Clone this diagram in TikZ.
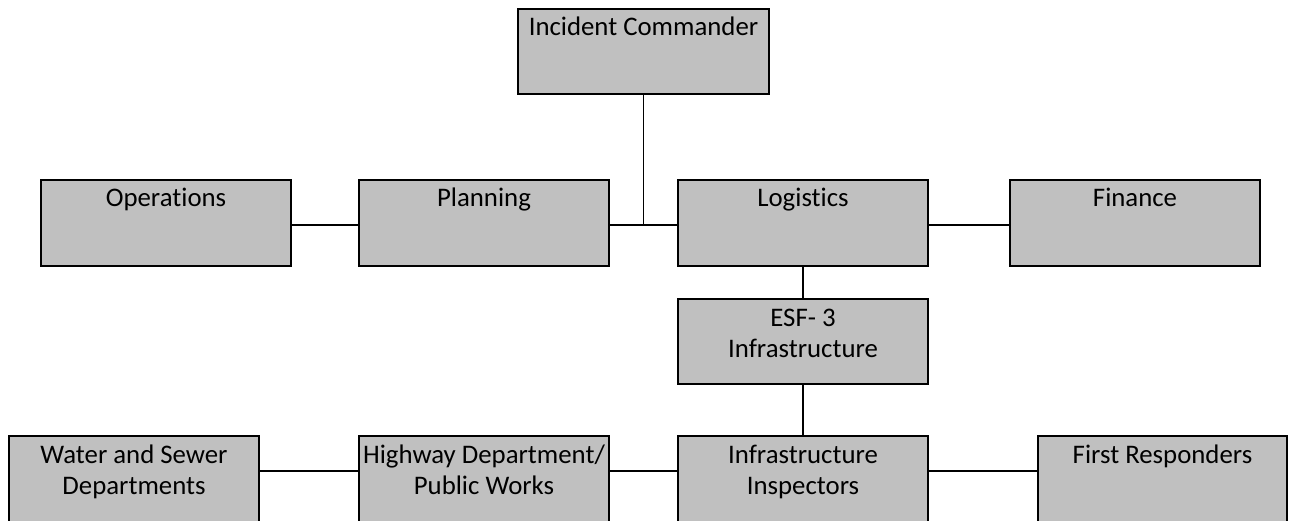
\documentclass[tikz,border=0pt]{standalone}
\usepackage{fontspec}
\setmainfont{Carlito}[Ligatures=NoCommon]
\definecolor{boxgray}{RGB}{192,192,192}
% two centred lines whose baseline is the first line
\newcommand{\stacktext}[2]{\vtop{\baselineskip=31pt\halign{\hfil##\hfil\cr #1\cr #2\cr}}}
\begin{document}
\begin{tikzpicture}[x=1pt,y=-1pt,
  box/.style={draw=black, line width=1.3pt, fill=boxgray, inner sep=0pt, outer sep=0pt,
              minimum width=250pt, minimum height=86pt},
  lbl/.style={inner sep=0pt, anchor=base, font=\fontsize{26.8}{31}\selectfont},
  link/.style={draw=black, line width=1.2pt}]
\useasboundingbox (0,0) rectangle (1289,521);

% boxes
\node[box, minimum width=251pt, minimum height=85pt] (ic) at (643.5,51.5) {};
\node[box] (ops)  at (166,223) {};
\node[box] (plan) at (484,223) {};
\node[box] (log)  at (803,223) {};
\node[box] (fin)  at (1135,223) {};
\node[box, minimum height=85pt] (esf) at (803,341.5) {};
\node[box] (ws)   at (134,479) {};
\node[box] (hw)   at (484,479) {};
\node[box] (ii)   at (803,479) {};
\node[box, minimum width=249pt] (fr) at (1162.5,479) {};

% labels, first baseline 27pt below the top edge
\node[lbl] (icT)   at ([yshift=-27pt]ic.north)   {Incident Commander};
\node[lbl] (opsT)  at ([yshift=-27pt]ops.north)  {Operations};
\node[lbl] (planT) at ([yshift=-27pt]plan.north) {Planning};
\node[lbl] (logT)  at ([yshift=-27pt]log.north)  {Logistics};
\node[lbl] (finT)  at ([yshift=-27pt]fin.north)  {Finance};
\node[lbl] (esfT)  at ([yshift=-27pt]esf.north)  {\stacktext{ESF- 3}{Infrastructure}};
\node[lbl] (wsT)   at ([yshift=-27pt]ws.north)   {\stacktext{Water and Sewer}{Departments}};
\node[lbl] (hwT)   at ([yshift=-27pt]hw.north)   {\stacktext{Highway Department/}{Public Works}};
\node[lbl] (iiT)   at ([yshift=-27pt]ii.north)   {\stacktext{Infrastructure}{Inspectors}};
\node[lbl] (frT)   at ([yshift=-27pt]fr.north)   {First Responders};

% connectors, top row
\coordinate (pe) at ([yshift=-45pt]plan.north east);
\draw[link] ([yshift=-45pt]ops.north east)  -- ([yshift=-45pt]plan.north west);
\draw[link] (pe) -- ([yshift=-45pt]log.north west);
\draw[link] ([yshift=-45pt]log.north east)  -- ([yshift=-45pt]fin.north west);
\draw[link] (ic.south) -- (ic.south |- pe);

% connectors, vertical chain
\draw[link] (log.south) -- (esf.north);
\draw[link] (esf.south) -- (ii.north);

% connectors, bottom row
\draw[link] ([yshift=-35pt]ws.north east) -- ([yshift=-35pt]hw.north west);
\draw[link] ([yshift=-35pt]hw.north east) -- ([yshift=-35pt]ii.north west);
\draw[link] ([yshift=-35pt]ii.north east) -- ([yshift=-35pt]fr.north west);
\end{tikzpicture}
\end{document}
